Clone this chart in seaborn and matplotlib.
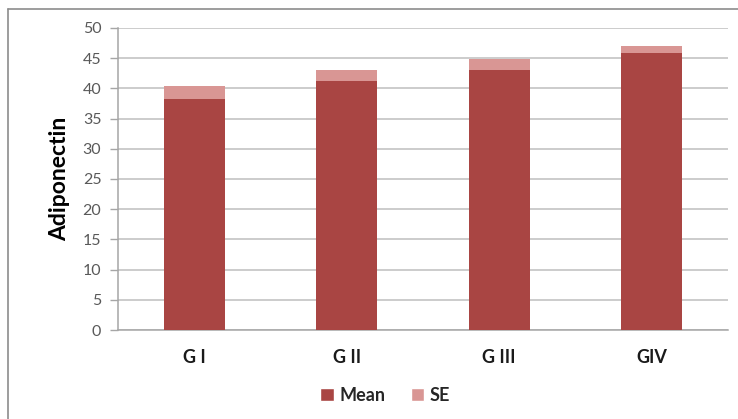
import matplotlib
matplotlib.use("Agg")
import matplotlib.pyplot as plt
from matplotlib.patches import Patch
from matplotlib.lines import Line2D
import seaborn as sns
import pandas as pd

groups = ["G I", "G II", "G III", "GIV"]
mean = [38.2, 41.2, 43.1, 45.8]
se = [2.2, 1.8, 1.8, 1.2]
y_ticks = [0, 5, 10, 15, 20, 25, 30, 35, 40, 45, 50]

MEAN_COLOR = "#A94543"
SE_COLOR = "#D99694"
GRID_COLOR = "#BEBEBE"
AXIS_COLOR = "#A6A6A6"

sns.set_theme(style="white")
plt.rcParams["font.family"] = ["Lato", "DejaVu Sans"]

df = pd.DataFrame({"group": groups, "mean": mean, "se": se})
df["total"] = df["mean"] + df["se"]

fig = plt.figure(figsize=(7.38, 4.19), dpi=100)
ax = fig.add_axes([0.1599, 0.2124, 0.8265, 0.7208])

# stacked bars: SE segment sits on top of the mean
sns.barplot(data=df, x="group", y="total", color=SE_COLOR, width=0.4,
            saturation=1, ax=ax, zorder=3)
sns.barplot(data=df, x="group", y="mean", color=MEAN_COLOR, width=0.4,
            saturation=1, ax=ax, zorder=4)
for p in ax.patches:
    p.set_edgecolor("none")

ax.set_xlim(-0.5, len(groups) - 0.5)
ax.set_ylim(0, 50)
ax.set_yticks(y_ticks)
ax.set_yticklabels([str(t) for t in y_ticks], fontsize=11.5, color="#595959")
ax.yaxis.grid(True, color=GRID_COLOR, linewidth=1.1, zorder=0)
ax.set_axisbelow(True)

ax.set_xticks(range(len(groups)))
ax.set_xticklabels(groups, fontsize=13, fontweight="bold", color="#1a1a1a")
ax.set_xticks([i - 0.5 for i in range(len(groups) + 1)], minor=True)
ax.tick_params(axis="x", which="major", length=0, pad=14)
ax.tick_params(axis="x", which="minor", length=5, width=1, color=AXIS_COLOR,
               direction="out")
ax.tick_params(axis="y", length=6, width=1, color=AXIS_COLOR, direction="out",
               left=True, pad=6)

ax.set_xlabel("")
ax.set_ylabel("Adiponectin", fontsize=16.5, color="black", labelpad=9,
              fontweight="bold")

for side in ("top", "right"):
    ax.spines[side].set_visible(False)
for side in ("left", "bottom"):
    ax.spines[side].set_color(AXIS_COLOR)
    ax.spines[side].set_linewidth(1.1)

handles = [Patch(facecolor=MEAN_COLOR, label="Mean"),
           Patch(facecolor=SE_COLOR, label="SE")]
leg = fig.legend(handles=handles, loc="center", bbox_to_anchor=(0.522, 0.057),
                 ncol=2, frameon=False, handlelength=0.75, handleheight=0.75,
                 handletextpad=0.3, columnspacing=1.4,
                 prop={"size": 13, "weight": "bold"})

# outer chart border (top and left edges)
fig.add_artist(Line2D([8 / 738, 1.0], [1 - 9 / 419, 1 - 9 / 419],
                      color="#8C8C8C", linewidth=1.2))
fig.add_artist(Line2D([8 / 738, 8 / 738], [0.0, 1 - 9 / 419],
                      color="#8C8C8C", linewidth=1.2))

fig.savefig("out.png", dpi=100, facecolor="white")
